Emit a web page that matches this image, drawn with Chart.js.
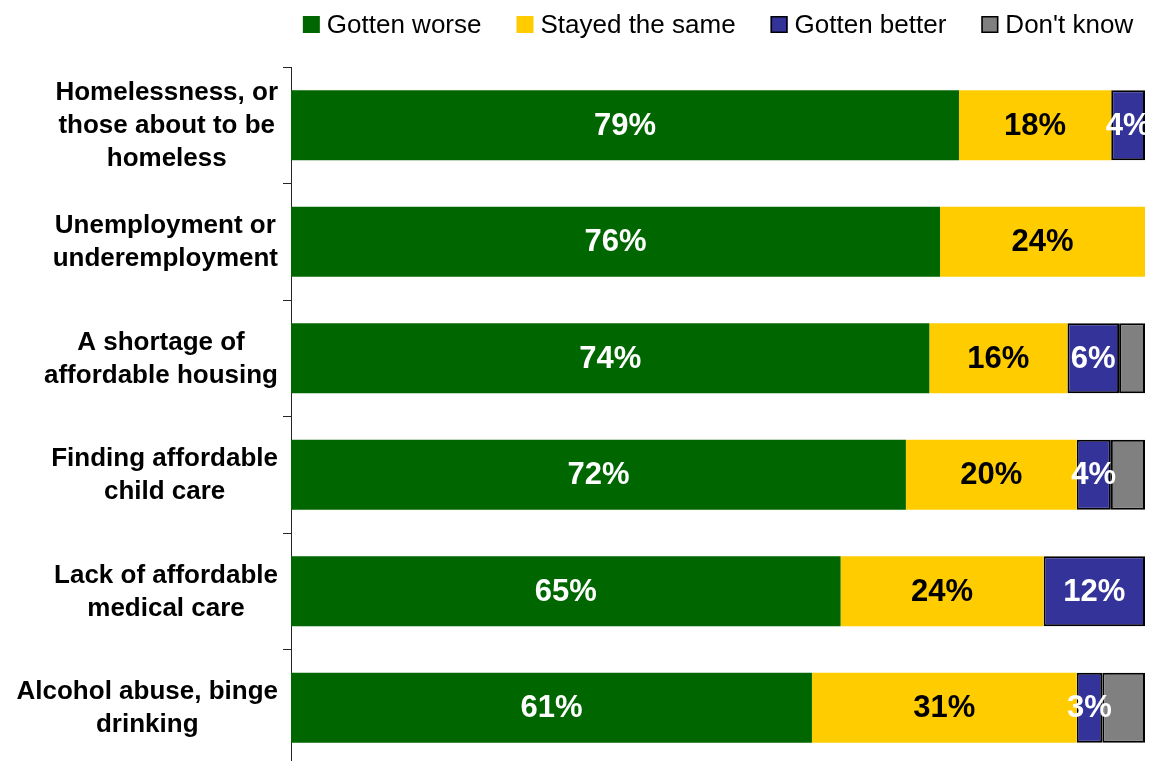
<!DOCTYPE html>
<html>
<head>
<meta charset="utf-8">
<script src="https://cdn.jsdelivr.net/npm/chart.js@4/dist/chart.umd.min.js"></script>
<style>
  body { margin: 0; background: #fff; overflow: hidden; }
  #wrap { position: relative; width: 1149px; height: 767px; }
</style>
</head>
<body>
<div id="wrap"><canvas id="bars"></canvas></div>
<script>
// survey rows, each label split into its printed lines
const categories = [
  ["Homelessness, or", "those about to be", "homeless"],
  ["Unemployment or", "underemployment"],
  ["A shortage of", "affordable housing"],
  ["Finding affordable", "child care"],
  ["Lack of affordable", "medical care"],
  ["Alcohol abuse, binge", "drinking"]
];

const seriesNames = ["Gotten worse", "Stayed the same", "Gotten better", "Don't know"];

const gottenWorse = [79, 76, 74, 72, 65, 61];
const stayedSame  = [18, 24, 16, 20, 24, 31];
const gottenBetter = [4, 0, 6, 4, 12, 3];
const dontKnow    = [0, 0, 3, 4, 0, 5];

const series = [gottenWorse, stayedSame, gottenBetter, dontKnow];

const fills   = ['#006600', '#ffcc00', '#333399', '#808080'];
const borders = [0, 0, 2, 2];
const labelColors = ['#ffffff', '#000000', '#ffffff', null]; // null = no value label

const fontFamily = '"Liberation Sans", Arial, sans-serif';

// 100% stacked: every row is scaled to its own total
let rowTotals = categories.map((c, j) => series.reduce((s, arr) => s + arr[j], 0));

let datasets = series.map((arr, i) => ({
  label: seriesNames[i],
  data: arr.map((v, j) => v / rowTotals[j] * 100),
  backgroundColor: fills[i],
  borderColor: '#000000',
  borderWidth: borders[i],
  borderSkipped: false,
  barPercentage: 0.6,
  categoryPercentage: 1.0
}));

// percent labels in the middle of each segment
const valueLabels = {
  id: 'valueLabels',
  afterDatasetsDraw(chart) {
    const ctx = chart.ctx;
    ctx.save();
    ctx.font = 'bold 31px ' + fontFamily;
    ctx.textAlign = 'center';
    ctx.textBaseline = 'middle';
    chart.data.datasets.forEach((ds, i) => {
      if (!labelColors[i]) return;
      const meta = chart.getDatasetMeta(i);
      meta.data.forEach((bar, j) => {
        const v = series[i][j];
        if (!v) return;
        const p = bar.getCenterPoint();
        ctx.fillStyle = labelColors[i];
        ctx.fillText(v + '%', p.x, p.y + 1);
      });
    });
    ctx.restore();
  }
};

// category names: each block right aligned to the axis, lines centred inside the block
const rowLabels = {
  id: 'rowLabels',
  afterDraw(chart) {
    const ctx = chart.ctx;
    const yScale = chart.scales.y;
    const lineH = 33;
    const rightEdge = chart.chartArea.left - 13;
    ctx.save();
    ctx.font = 'bold 26px ' + fontFamily;
    ctx.fillStyle = '#000000';
    ctx.textAlign = 'center';
    ctx.textBaseline = 'middle';
    categories.forEach((lines, j) => {
      const cy = yScale.getPixelForValue(j);
      const w = Math.max(...lines.map(l => ctx.measureText(l).width));
      const cx = rightEdge - w / 2;
      const y0 = cy - (lines.length - 1) * lineH / 2;
      lines.forEach((l, k) => ctx.fillText(l, cx, y0 + k * lineH + 1));
    });
    ctx.restore();
  }
};

// legend row across the top, centred over the plot
const topLegend = {
  id: 'topLegend',
  afterDraw(chart) {
    const ctx = chart.ctx;
    const box = 17, textGap = 7, itemGap = 35;
    ctx.save();
    ctx.font = '26px ' + fontFamily;
    ctx.textBaseline = 'alphabetic';
    ctx.textAlign = 'left';
    let widths = seriesNames.map(n => ctx.measureText(n).width);
    let total = widths.reduce((s, w) => s + w + box + textGap, 0) + itemGap * (seriesNames.length - 1);
    let x = (chart.chartArea.left + chart.chartArea.right) / 2 - total / 2;
    seriesNames.forEach((n, i) => {
      ctx.fillStyle = fills[i];
      ctx.fillRect(x, 16, box, box);
      if (borders[i]) {
        ctx.strokeStyle = '#000000';
        ctx.lineWidth = 1.5;
        ctx.strokeRect(x + 0.75, 16.75, box - 1.5, box - 1.5);
      }
      ctx.fillStyle = '#000000';
      ctx.fillText(n, x + box + textGap, 33);
      x += box + textGap + widths[i] + itemGap;
    });
    ctx.restore();
  }
};

let chart = new Chart(document.getElementById('bars'), {
  type: 'bar',
  data: {
    labels: categories.map(c => c.join(' ')),
    datasets: datasets
  },
  options: {
    indexAxis: 'y',
    responsive: true,
    maintainAspectRatio: false,
    animation: false,
    layout: { padding: { top: 67, right: 4, bottom: 1, left: 0 } },
    plugins: {
      legend: { display: false },
      tooltip: { enabled: false }
    },
    scales: {
      x: {
        stacked: true,
        min: 0,
        max: 100,
        display: false
      },
      y: {
        stacked: true,
        ticks: { display: false },
        grid: {
          offset: true,
          drawOnChartArea: false,
          drawTicks: true,
          tickLength: 8,
          color: '#262626'
        },
        border: { display: true, color: '#262626', width: 1 },
        afterFit(scale) { scale.width = 291; }
      }
    }
  },
  plugins: [valueLabels, rowLabels, topLegend]
});
</script>
</body>
</html>
